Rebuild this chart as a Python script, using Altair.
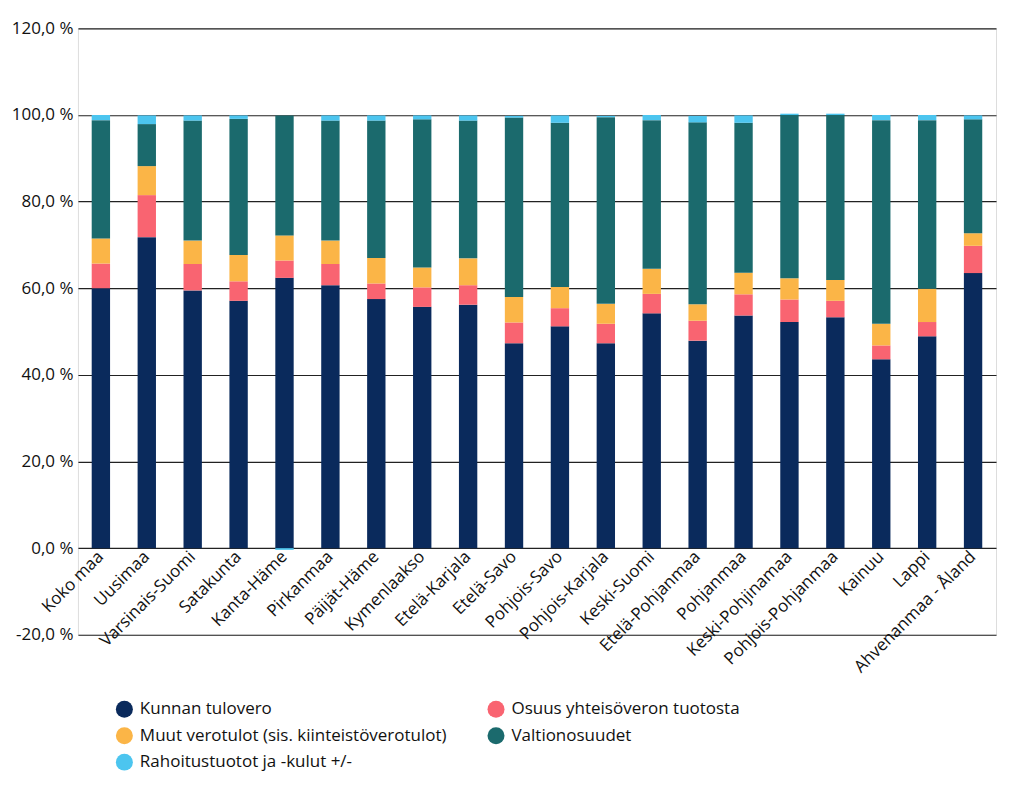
import altair as alt
import pandas as pd

regions = ["Koko maa", "Uusimaa", "Varsinais-Suomi", "Satakunta", "Kanta-Häme",
           "Pirkanmaa", "Päijät-Häme", "Kymenlaakso", "Etelä-Karjala", "Etelä-Savo",
           "Pohjois-Savo", "Pohjois-Karjala", "Keski-Suomi", "Etelä-Pohjanmaa",
           "Pohjanmaa", "Keski-Pohjinamaa", "Pohjois-Pohjanmaa", "Kainuu", "Lappi",
           "Ahvenanmaa - Åland"]

series = ["Kunnan tulovero", "Osuus yhteisöveron tuotosta",
          "Muut verotulot (sis. kiinteistöverotulot)", "Valtionosuudet",
          "Rahoitustuotot ja -kulut +/-"]

tulovero = [60.0, 71.8, 59.5, 57.1, 62.4, 60.7, 57.5, 55.7, 56.2, 47.3,
            51.2, 47.3, 54.2, 47.9, 53.7, 52.2, 53.3, 43.6, 48.9, 63.5]
osuus = [5.7, 9.7, 6.1, 4.5, 4.0, 4.9, 3.6, 4.5, 4.5, 4.8,
         4.2, 4.5, 4.5, 4.6, 4.9, 5.2, 3.8, 3.2, 3.3, 6.3]
muut = [5.8, 6.7, 5.4, 6.1, 5.8, 5.4, 5.9, 4.6, 6.2, 5.9,
        4.9, 4.6, 5.8, 3.8, 5.0, 4.9, 4.8, 5.0, 7.7, 2.9]
valtion = [27.3, 9.7, 27.7, 31.4, 27.7, 27.7, 31.7, 34.2, 31.8, 41.4,
           37.9, 43.1, 34.3, 42.0, 34.6, 37.7, 38.1, 47.0, 38.9, 26.3]
rahoitus = [1.2, 2.0, 1.2, 0.8, -0.4, 1.2, 1.2, 0.9, 1.2, 0.4,
            1.7, 0.3, 1.2, 1.5, 1.7, 0.3, 0.3, 1.2, 1.2, 0.9]

colors = ["#0a2a5c", "#f96471", "#fbb547", "#1b6a6d", "#4cc5ef"]

rows = []
for s_i, (name, vals) in enumerate(zip(series, [tulovero, osuus, muut, valtion, rahoitus])):
    for r, v in zip(regions, vals):
        rows.append({"alue": r, "sarja": name, "arvo": v, "jarj": s_i})
df = pd.DataFrame(rows)

FONT = "Open Sans"

chart = alt.Chart(df).mark_bar().encode(
    x=alt.X("alue:N", sort=regions, title=None,
            scale=alt.Scale(paddingInner=0.6, paddingOuter=0.3),
            axis=alt.Axis(labelAngle=-45, labelAlign="right", labelBaseline="middle",
                          domain=False, ticks=False, labelPadding=6, offset=-87,
                          labelFontSize=17, labelColor="#111", labelFont=FONT,
                          labelOverlap=False)),
    y=alt.Y("arvo:Q", stack="zero", title=None,
            scale=alt.Scale(domain=[-20, 120], nice=False),
            axis=alt.Axis(values=[-20, 0, 20, 40, 60, 80, 100, 120],
                          labelExpr="replace(replace(format(datum.value, '.1f'), '.', ','), '\u2212', '-') + ' %'",
                          domain=False, ticks=False, labelPadding=5,
                          grid=True, gridColor="#222", gridWidth=1.2,
                          labelFontSize=17, labelColor="#111", labelFont=FONT)),
    color=alt.Color("sarja:N", sort=series,
                    scale=alt.Scale(domain=series, range=colors),
                    legend=alt.Legend(title=None, orient="none", legendX=38, legendY=673,
                                      columns=2, direction="horizontal",
                                      columnPadding=40, rowPadding=8.5,
                                      symbolType="circle", symbolSize=289,
                                      symbolStrokeWidth=0, labelFontSize=17,
                                      labelFont=FONT, labelColor="#111",
                                      labelLimit=400, padding=0, labelOffset=7)),
    order=alt.Order("jarj:Q", sort="ascending"),
).properties(
    width=919, height=607,
    autosize=alt.AutoSizeParams(type="none"),
    padding={"left": 70, "top": 20, "right": 20, "bottom": 140},
).configure_view(stroke=None).configure(background="white")

chart.save("out.html", embed_options={"renderer": "svg", "actions": False})
